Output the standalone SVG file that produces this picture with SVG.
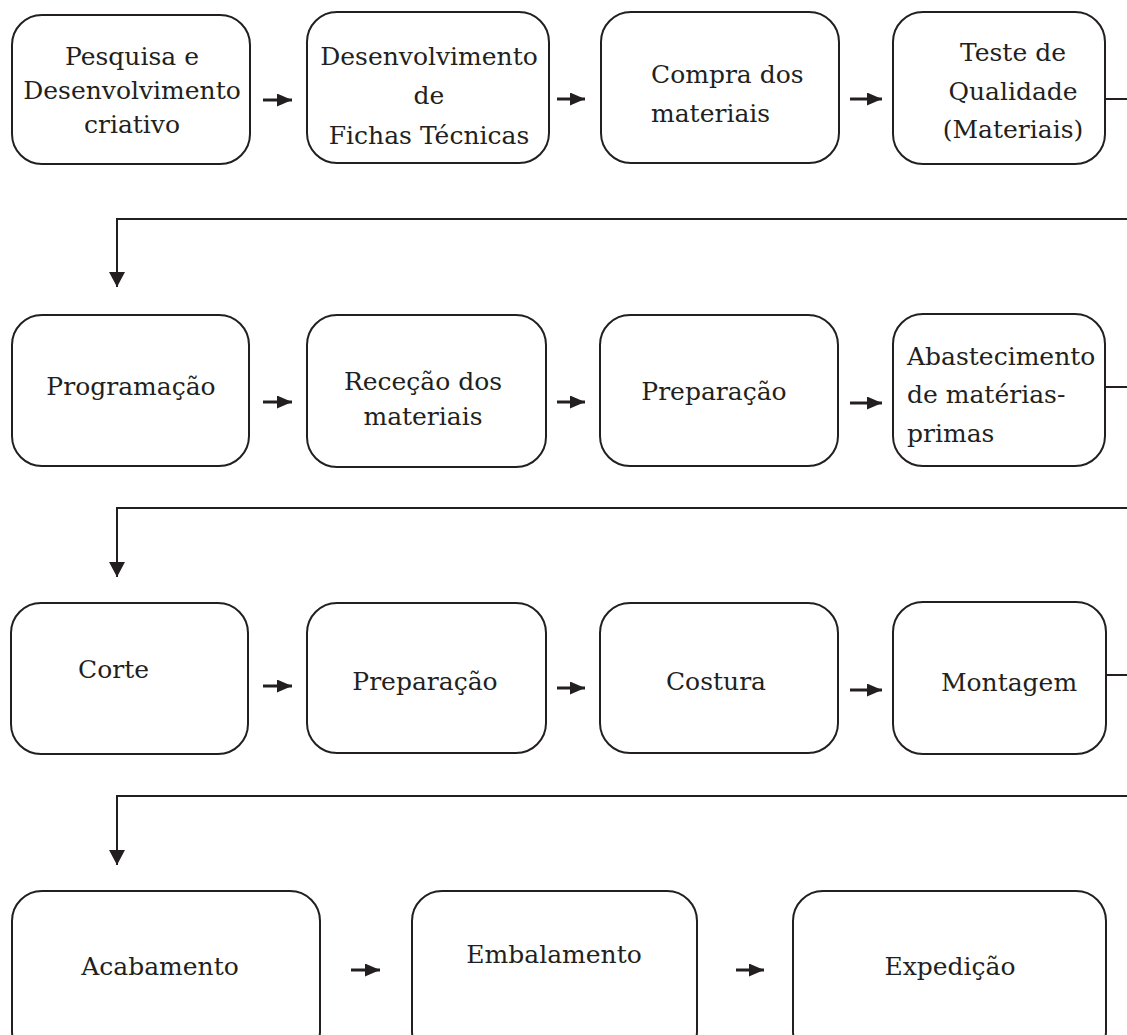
<svg xmlns="http://www.w3.org/2000/svg" width="1127" height="1035" viewBox="0 0 1127 1035">
<style>
.box{fill:#fff;stroke:#231f20;stroke-width:2}
.t{font-family:"DejaVu Serif","Liberation Serif",serif;font-size:25px;fill:#231f20}
.c{text-anchor:middle}
.ln{fill:none;stroke:#231f20;stroke-width:2}
.ar{fill:none;stroke:#231f20;stroke-width:3}
</style>
<defs>
<marker id="ah" viewBox="0 0 15 13" refX="15" refY="6.5" markerWidth="15" markerHeight="13" markerUnits="userSpaceOnUse" orient="auto"><path d="M0,0 L15,6.5 L0,13 Z" fill="#231f20"/></marker>
<marker id="av" viewBox="0 0 15 16" refX="15" refY="8" markerWidth="15" markerHeight="16" markerUnits="userSpaceOnUse" orient="auto"><path d="M0,0 L15,8 L0,16 Z" fill="#231f20"/></marker>
</defs>
<g id="n1"><rect class="box" x="12" y="15" width="238" height="149" rx="30"/><text class="t c" x="132" y="65">Pesquisa e</text><text class="t c" x="132" y="99">Desenvolvimento</text><text class="t c" x="132" y="133">criativo</text></g>
<g id="n2"><rect class="box" x="307" y="12" width="242" height="151" rx="30"/><text class="t c" x="429" y="65">Desenvolvimento</text><text class="t c" x="429" y="104">de</text><text class="t c" x="429" y="144">Fichas Técnicas</text></g>
<g id="n3"><rect class="box" x="601" y="12" width="238" height="151" rx="30"/><text class="t" x="651" y="83">Compra dos</text><text class="t" x="651" y="122">materiais</text></g>
<g id="n4"><rect class="box" x="893" y="12" width="212" height="152" rx="30"/><text class="t c" x="1013" y="61">Teste de</text><text class="t c" x="1013" y="100">Qualidade</text><text class="t c" x="1013" y="138">(Materiais)</text></g>
<g id="n5"><rect class="box" x="12" y="315" width="237" height="151" rx="30"/><text class="t c" x="131" y="395">Programação</text></g>
<g id="n6"><rect class="box" x="307" y="315" width="239" height="152" rx="30"/><text class="t c" x="423" y="390">Receção dos</text><text class="t c" x="423" y="425">materiais</text></g>
<g id="n7"><rect class="box" x="600" y="315" width="238" height="151" rx="30"/><text class="t c" x="714" y="400">Preparação</text></g>
<g id="n8"><rect class="box" x="893" y="314" width="212" height="152" rx="30"/><text class="t" x="907" y="365">Abastecimento</text><text class="t" x="907" y="403">de matérias-</text><text class="t" x="907" y="442">primas</text></g>
<g id="n9"><rect class="box" x="11" y="603" width="237" height="151" rx="30"/><text class="t" x="78" y="678">Corte</text></g>
<g id="n10"><rect class="box" x="307" y="603" width="239" height="150" rx="30"/><text class="t c" x="425" y="690">Preparação</text></g>
<g id="n11"><rect class="box" x="600" y="603" width="238" height="150" rx="30"/><text class="t c" x="716" y="690">Costura</text></g>
<g id="n12"><rect class="box" x="893" y="602" width="213" height="152" rx="30"/><text class="t c" x="1009" y="691">Montagem</text></g>
<g id="n13"><rect class="box" x="12" y="891" width="308" height="170" rx="30"/><text class="t c" x="160" y="975">Acabamento</text></g>
<g id="n14"><rect class="box" x="412" y="891" width="285" height="170" rx="30"/><text class="t c" x="554" y="963">Embalamento</text></g>
<g id="n15"><rect class="box" x="793" y="891" width="313" height="170" rx="30"/><text class="t c" x="950" y="975">Expedição</text></g>
<g id="connectors">
<line class="ar" x1="263" y1="100" x2="292" y2="100" marker-end="url(#ah)"/>
<line class="ar" x1="557" y1="99" x2="585" y2="99" marker-end="url(#ah)"/>
<line class="ar" x1="850" y1="99" x2="882" y2="99" marker-end="url(#ah)"/>
<path class="ln" d="M1105,99 H1127"/>
<path class="ln" d="M1127,219 H117 V287" marker-end="url(#av)"/>
<line class="ar" x1="263" y1="402" x2="292" y2="402" marker-end="url(#ah)"/>
<line class="ar" x1="557" y1="402" x2="585" y2="402" marker-end="url(#ah)"/>
<line class="ar" x1="850" y1="403" x2="882" y2="403" marker-end="url(#ah)"/>
<path class="ln" d="M1105,387 H1127"/>
<path class="ln" d="M1127,508 H117 V577" marker-end="url(#av)"/>
<line class="ar" x1="263" y1="686" x2="292" y2="686" marker-end="url(#ah)"/>
<line class="ar" x1="557" y1="688" x2="585" y2="688" marker-end="url(#ah)"/>
<line class="ar" x1="850" y1="690" x2="882" y2="690" marker-end="url(#ah)"/>
<path class="ln" d="M1106,675 H1127"/>
<path class="ln" d="M1127,796 H117 V865" marker-end="url(#av)"/>
<line class="ar" x1="351" y1="970" x2="380" y2="970" marker-end="url(#ah)"/>
<line class="ar" x1="736" y1="970" x2="764" y2="970" marker-end="url(#ah)"/>
</g>
</svg>
